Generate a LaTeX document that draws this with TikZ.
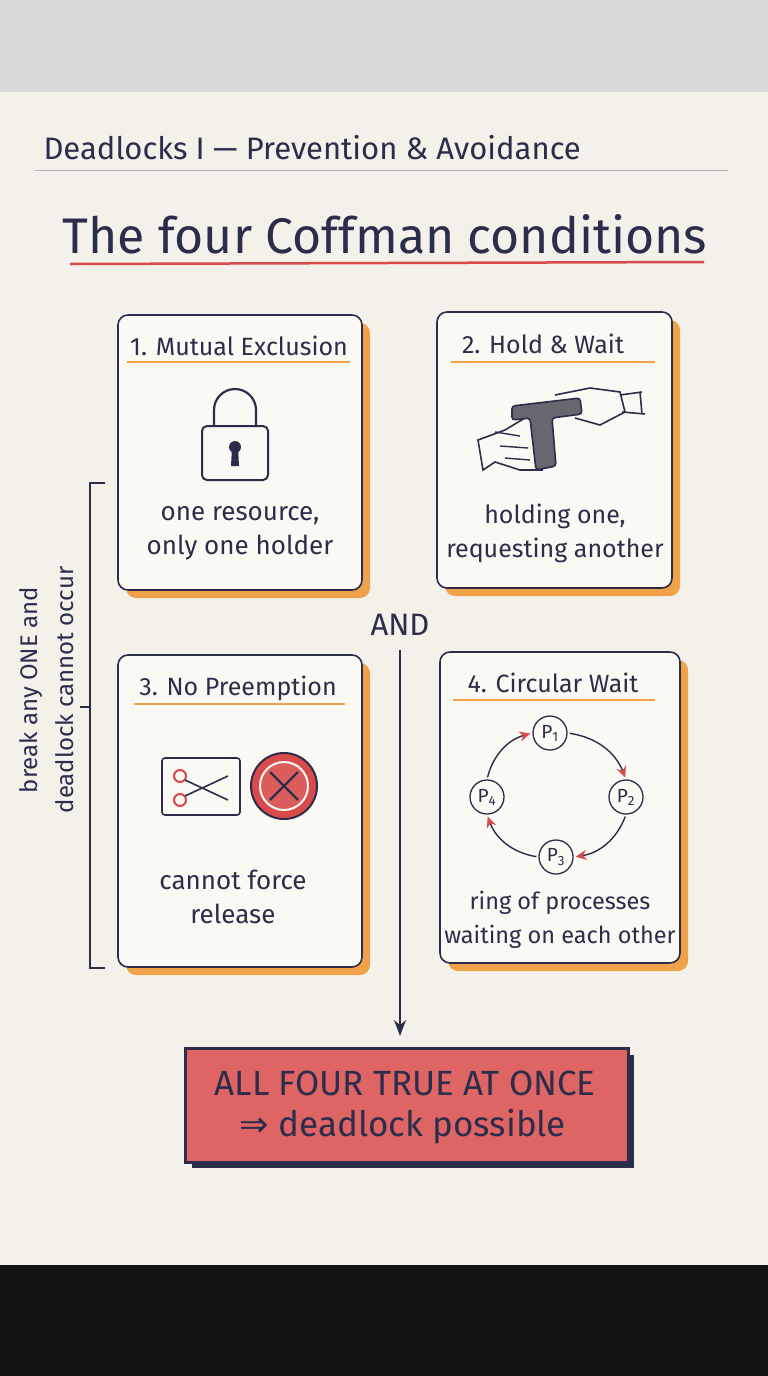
\documentclass[tikz,border=0pt]{standalone}
\usepackage{fontspec}
\setmainfont{Fira Sans}
\newfontfamily\djvfont{DejaVu Sans}
\usetikzlibrary{arrows.meta}
\definecolor{ink}{HTML}{2B2D4A}
\definecolor{org}{HTML}{F0A24A}
\definecolor{rd}{HTML}{D94A4A}
\definecolor{paper}{HTML}{F3F1EA}
\definecolor{boxbg}{HTML}{FAF9F4}
\tikzset{
  card/.style={draw=ink,line width=1.6pt,fill=boxbg,rounded corners=10pt},
  shadow/.style={fill=org,rounded corners=10pt},
  ttl/.style={text=ink,font=\fontsize{25}{28}\selectfont,anchor=base},
  body/.style={text=ink,font=\fontsize{26}{34}\selectfont,align=center},
  uline/.style={draw=org,line width=2pt},
  proc/.style={circle,draw=ink,line width=1.3pt,fill=boxbg,minimum size=34pt,inner sep=0pt,text=ink,font=\fontsize{19}{20}\selectfont},
  carr/.style={draw=ink,line width=1.4pt,shorten >=2pt,shorten <=2pt,-{Stealth[length=11pt,width=10pt,color=rd,fill=rd]}},
}
\begin{document}
\begin{tikzpicture}[x=1pt,y=-1pt]
\useasboundingbox (0,0) rectangle (768,1376);
\fill[gray!30] (0,0) rectangle (768,92);
\fill[paper] (0,92) rectangle (768,1265);
\fill[black!92] (0,1265) rectangle (768,1376);
% header
\node[text=ink,font=\fontsize{31}{32}\selectfont,anchor=base west] (hdr) at (40,159) {Deadlocks I — Prevention \& Avoidance};
\draw[gray!60,line width=0.8pt] (35,170) coordinate (h1) -- (728,170) coordinate (h2);
\node[text=ink,font=\fontsize{50}{54}\selectfont,anchor=base] (title) at (385,253) {The four Coffman conditions};
\draw[rd,line width=2.5pt] (70,264) coordinate (t1) -- (704,262) coordinate (t2);
% card 1
\fill[shadow] (126,323) rectangle (370,598);
\draw[card] (118,315) rectangle (362,590);
\node[ttl] (c1) at (239,355) {1. Mutual Exclusion};
\draw[uline] (127,362) -- (350,362);
% lock
\draw[ink,line width=2.2pt] (214,426) -- (214,410) arc[start angle=180,end angle=360,radius=21] -- (256,426);
\draw[ink,line width=2pt,fill=boxbg,rounded corners=5pt] (202,426) rectangle (268,480);
\fill[ink] (235,447) circle (6);
\fill[ink] (232,447) -- (238,447) -- (239,466) -- (231,466) -- cycle;
\node[body] (b1) at (240,533) {one resource,\\only one holder};
% card 2
\fill[shadow] (445,320) rectangle (680,596);
\draw[card] (437,312) rectangle (672,588);
\node[ttl] (c2) at (543,353) {2. Hold \& Wait};
\draw[uline] (451,362) -- (655,362);
% hand icon
\draw[ink,line width=1.6pt,fill=boxbg] (478,440) -- (505,430) -- (525,418) -- (540,420) -- (542,470) -- (520,470) -- (495,462) -- (483,470) -- cycle;
\draw[ink,line width=1.6pt,fill=gray!70!ink,rounded corners=3pt] (512,406) -- (580,398) -- (582,414) -- (552,418) -- (556,466) -- (536,470) -- (530,418) -- (512,420) -- cycle;
\draw[ink,line width=1.6pt] (555,395) -- (590,388) -- (620,392) -- (625,412) -- (600,425) -- (575,418);
\draw[ink,line width=1.6pt] (620,395) -- (642,392) (622,412) -- (645,414) (640,392) -- (642,414);
\draw[ink,line width=1.4pt] (495,432) -- (520,436) (500,446) -- (528,448) (505,458) -- (530,460);
\node[body,font=\fontsize{25}{34}\selectfont] (b2) at (555,533) {holding one,\\requesting another};
% AND + arrow
\node[text=ink,font=\fontsize{31}{32}\selectfont] (and) at (400,625) {AND};
\coordinate (a1) at (400,650);
\coordinate (a2) at (400,1036);
\draw[ink,line width=1.8pt,-{Stealth[length=16pt,width=12pt]}] (a1) -- (a2);
% card 3
\fill[shadow] (126,663) rectangle (370,975);
\draw[card] (118,655) rectangle (362,967);
\node[ttl] (c3) at (238,695) {3. No Preemption};
\draw[uline] (134,704) -- (345,704);
\draw[ink,line width=1.6pt,rounded corners=3pt,fill=boxbg] (162,758) rectangle (240,815);
\draw[rd,line width=2pt] (180,776) circle (6) (180,800) circle (6);
\draw[ink,line width=1.6pt] (185,780) -- (228,800) (185,796) -- (228,776);
\draw[ink,line width=2pt,fill=rd] (284,786) circle (33);
\draw[boxbg,line width=2pt,fill=rd!90] (284,786) circle (24);
\draw[ink,line width=2.4pt] (270,772) -- (298,800) (298,772) -- (270,800);
\node[body] (b3) at (233,897) {cannot force\\release};
% card 4
\fill[shadow] (448,660) rectangle (688,971);
\draw[card] (440,652) rectangle (680,963);
\node[ttl] (c4) at (553,692) {4. Circular Wait};
\draw[uline] (453,700) -- (655,700);
\node[proc] (p1) at (550,733) {P\textsubscript{1}};
\node[proc] (p2) at (626,797) {P\textsubscript{2}};
\node[proc] (p3) at (556,857) {P\textsubscript{3}};
\node[proc] (p4) at (487,797) {P\textsubscript{4}};
\draw[carr] (p4.north) to[bend left=30] (p1.west);
\draw[carr] (p1.east) to[bend left=30] (p2.north);
\draw[carr] (p2.south) to[bend left=30] (p3.east);
\draw[carr] (p3.west) to[bend left=30] (p4.south);
\node[body,font=\fontsize{23.5}{34}\selectfont] (b4) at (560,920) {ring of processes\\waiting on each other};
% bracket
\draw[ink,line width=1.3pt] (105,483) coordinate (k1) -- (90,483) -- (90,968) -- (105,968) coordinate (k2);
\draw[ink,line width=1.3pt] (90,707) coordinate (k3) -- (80,707) coordinate (k4);
\node[body,rotate=90,font=\fontsize{24}{36}\selectfont] (brk) at (47,690) {break any ONE and\\deadlock cannot occur};
% result
\fill[ink] (192,1055) rectangle (634,1168);
\draw[ink,line width=3pt,fill=rd!85!white] (185,1048) rectangle (628,1162);
\node[text=ink,font=\fontsize{35}{38}\selectfont] (r1) at (405,1083) {ALL FOUR TRUE AT ONCE};
\node[text=ink,font=\fontsize{35}{38}\selectfont] (r2) at (403,1127) {{\djvfont ⇒} deadlock possible};
\end{tikzpicture}
\end{document}
